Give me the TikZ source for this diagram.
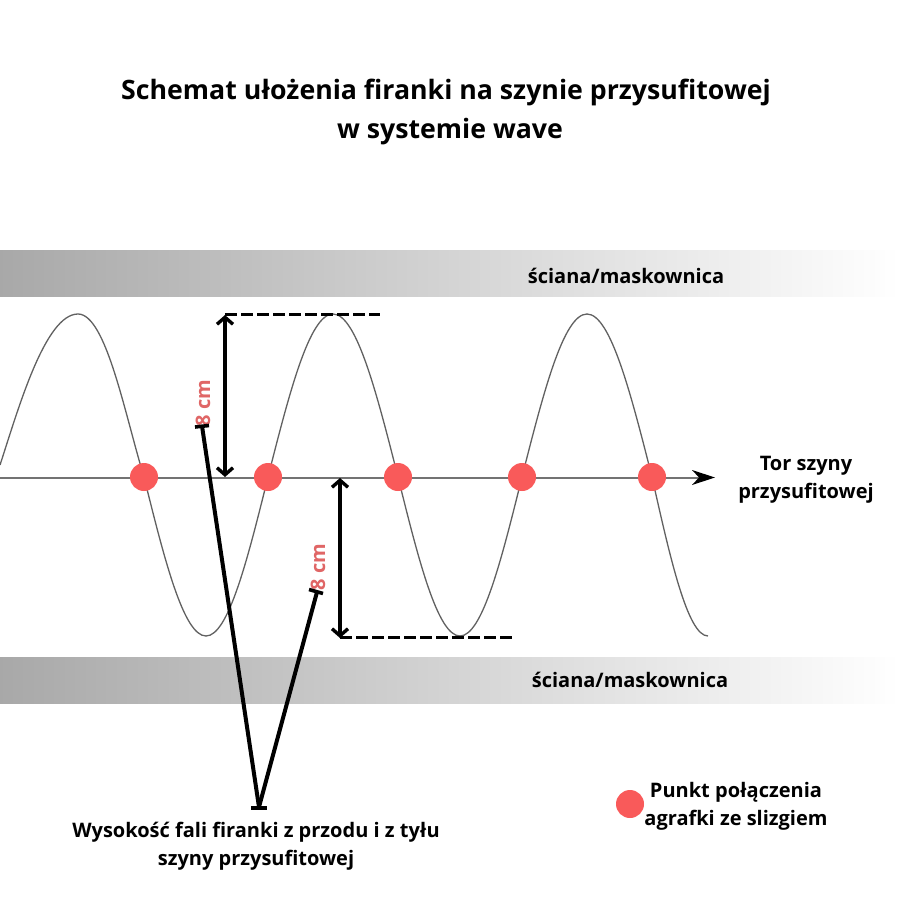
\documentclass[tikz,border=0pt]{standalone}
\usepackage{fontspec}
\setmainfont{Open Sans}[BoldFont={* Bold}]
\usetikzlibrary{arrows.meta}
\definecolor{dotred}{HTML}{F95A5A}
\definecolor{labelred}{HTML}{E06666}
\tikzset{
  x=1pt,y=-1pt,
  band/.style={left color=black!34,right color=white,draw=none},
  wave/.style={draw=black!62,line width=1.3pt},
  dotnode/.style={circle,fill=dotred,draw=none,minimum size=28pt,inner sep=0pt},
  txt/.style={font=\bfseries\fontsize{#1pt}{#1pt}\selectfont,align=center,text=black,inner sep=0pt},
  cmlabel/.style={font=\bfseries\fontsize{20pt}{20pt}\selectfont,text=labelred,rotate=90,inner sep=0pt},
  dimline/.style={line width=4pt,{Straight Barb[length=7pt,width=16pt,line width=3.4pt]}-{Straight Barb[length=7pt,width=16pt,line width=3.4pt]}},
  dashline/.style={line width=3.6pt,dash pattern=on 12pt off 4pt},
  leadline/.style={line width=4pt},
  tickline/.style={line width=3.6pt}
}
\begin{document}
\begin{tikzpicture}
\useasboundingbox (0,0) rectangle (900,900);
\fill[white] (0,0) rectangle (900,900);
\node[txt=26.7] (title) at (446,112) {Schemat ułożenia firanki na szynie przysufitowej\\[11.4pt]\hspace*{8pt}w systemie wave};
\shade[band] (0,250) rectangle (900,296);
\shade[band] (0,657) rectangle (900,703);
\node[txt=20] (w1) at (626,276) {ściana/maskownica};
\node[txt=20] (w2) at (630,680) {ściana/maskownica};
\draw[wave] (0,465) .. controls (18,410) and (45,314) .. (78,314) .. controls (106,314) and (125,415) .. (144,477)
  sin (206,636) cos (268,477) sin (333,314) cos (398,477) sin (460,636) cos (522,477) sin (587,314) cos (652,477) sin (708,636);
\coordinate (ts) at (0,477.5);
\coordinate (te) at (715,477.5);
\draw[line width=2pt,draw=black!55] (ts) -- (700,477.5);
\fill (te) -- (692,470) -- (699,477.5) -- (692,485) -- cycle;
\foreach \n/\x in {a/144,b/268,c/398,d/522,e/652}{\node[dotnode] (\n) at (\x,477) {};}
\node[txt=20] (tor) at (806,480) {Tor szyny\\[7pt]przysufitowej};
\coordinate (u1) at (225,315);\coordinate (u2) at (225,477);
\coordinate (l1) at (340,478);\coordinate (l2) at (340,638);
\draw[dimline] (u1) -- (u2);
\draw[dimline] (l1) -- (l2);
\coordinate (dA) at (225,314.5);\coordinate (dB) at (380,314.5);
\coordinate (dC) at (340,637.5);\coordinate (dD) at (513,637.5);
\draw[dashline] (dA) -- (dB);
\draw[dashline] (dC) -- (dD);
\node[cmlabel] (c1) at (203,403) {8 cm};
\node[cmlabel] (c2) at (318,567) {8 cm};
\coordinate (p1) at (202,426);\coordinate (p2) at (317,592);\coordinate (p) at (259,807);
\draw[leadline] (p1) -- (p);
\draw[leadline] (p2) -- (p);
\draw[tickline] (195,427) -- (209,425.5);
\draw[tickline] (309,589.5) -- (323,593.5);
\draw[tickline] (251,808) -- (267,808);
\node[txt=20] (cap) at (256,846) {Wysokość fali firanki z przodu i z tyłu\\[7pt]szyny przysufitowej};
\node[dotnode] (leg) at (630,804) {};
\node[txt=20] (legt) at (736,806) {Punkt połączenia\\[7pt]agrafki ze slizgiem};
\end{tikzpicture}
\end{document}
